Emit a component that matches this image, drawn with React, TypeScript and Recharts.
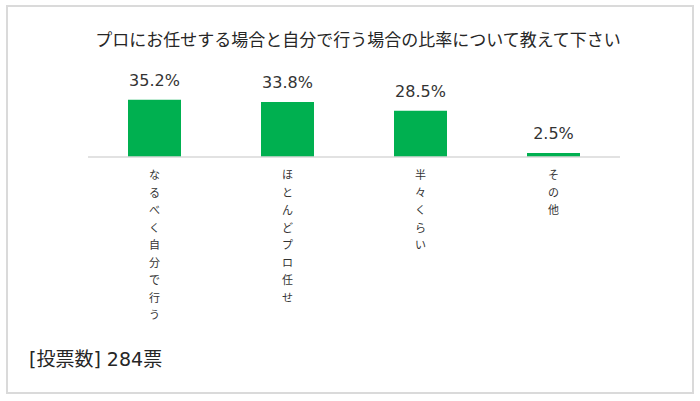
import { BarChart, Bar, XAxis, YAxis, LabelList } from 'recharts'

const categories = ['なるべく自分で行う', 'ほとんどプロ任せ', '半々くらい', 'その他']
const shares = [35.2, 33.8, 28.5, 2.5]
const title = 'プロにお任せする場合と自分で行う場合の比率について教えて下さい'
const footnote = '[投票数] 284票'

const data = categories.map((name, i) => ({ name, value: shares[i] }))

const FONT = '"Noto Sans CJK JP", "Noto Sans", sans-serif'
const LATIN_FIRST = '"DejaVu Sans", "Noto Sans CJK JP", sans-serif'

function VerticalTick({ x, y, payload }: any) {
  const chars = Array.from(String(payload.value))
  return (
    <text x={x} y={y} textAnchor="middle" fontSize={11} fill="#333" fontFamily={FONT}>
      {chars.map((c, i) => (
        <tspan key={i} x={x} dy={i === 0 ? 14 : 17.5}>{c}</tspan>
      ))}
    </text>
  )
}

export default function App() {
  return (
    <div style={{ position: 'absolute', left: 0, top: 0, width: 700, height: 401, background: '#fff', fontFamily: FONT }}>
      <div style={{ position: 'absolute', left: 6, top: 5, width: 684, height: 385, border: '2px solid #dadada' }} />
      <div style={{ position: 'absolute', left: 0, top: 26, width: 716, textAlign: 'center', fontSize: 17, color: '#262626', whiteSpace: 'nowrap' }}>
        {title}
      </div>
      <div style={{ position: 'absolute', left: 29, top: 344, fontSize: 19, color: '#262626', whiteSpace: 'pre', fontFamily: LATIN_FIRST }}>
        {footnote}
      </div>
      <div style={{ position: 'absolute', left: 0, top: 0 }}>
        <BarChart width={700} height={401} data={data} margin={{ top: 92, right: 80, left: 88, bottom: 44 }}>
          <YAxis hide domain={[0, 40]} />
          <XAxis dataKey="name" axisLine={{ stroke: '#d9d9d9', strokeWidth: 1.5 }} tickLine={false}
            height={200} interval={0} tick={<VerticalTick />} />
          <Bar dataKey="value" fill="#00b050" barSize={53} isAnimationActive={false}>
            <LabelList dataKey="value" position="top" offset={14} fontSize={16} fill="#333"
              fontFamily='"DejaVu Sans", sans-serif'
              formatter={(v: number) => `${v.toFixed(1)}%`} />
          </Bar>
        </BarChart>
      </div>
    </div>
  )
}
